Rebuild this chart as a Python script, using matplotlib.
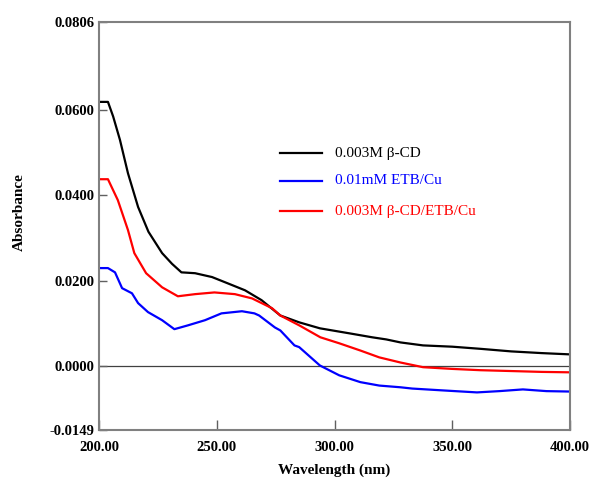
import matplotlib
matplotlib.use("Agg")
import matplotlib.pyplot as plt
from matplotlib.lines import Line2D

# ---- data ----
wl_black = [200, 203.8, 206, 208.9, 212.3, 216.6, 221, 226.8, 231, 235, 240.8, 248, 254.8, 262, 269,
            277, 285, 293.8, 306.6, 316, 322, 328, 337.6, 350, 362, 375, 388, 400]
abs_black = [0.0619, 0.0619, 0.0585, 0.0530, 0.0452, 0.0373, 0.0315, 0.0265, 0.0240, 0.0220, 0.0218,
             0.0209, 0.0194, 0.0178, 0.0155, 0.0119, 0.0103, 0.0089, 0.0077, 0.0068, 0.0063, 0.0056,
             0.0049, 0.0046, 0.0041, 0.0035, 0.0031, 0.0028]

wl_blue = [200, 203.8, 206.8, 209.8, 214, 216.6, 220.8, 226.8, 232, 237.8, 245, 252, 260.7, 266,
           268, 274.7, 277, 283, 285, 293.8, 302, 311, 319, 328, 333, 345, 360.5, 370, 380, 390, 400]
abs_blue = [0.0230, 0.0230, 0.0220, 0.0183, 0.0171, 0.0148, 0.0127, 0.0108, 0.0087, 0.0096, 0.0108,
            0.0124, 0.0129, 0.0124, 0.0119, 0.0091, 0.0084, 0.0049, 0.0045, 0.0002, -0.0021, -0.0037,
            -0.0045, -0.0049, -0.0052, -0.0056, -0.0061, -0.0058, -0.0054, -0.0058, -0.0059]

wl_red = [200, 203.8, 208, 212.3, 215, 220, 226.8, 233.5, 240.8, 249, 257.7, 265, 273.5, 277, 285,
          294, 302, 311, 319, 328, 337.6, 350, 361.8, 375, 388, 400]
abs_red = [0.0438, 0.0438, 0.0389, 0.0319, 0.0265, 0.0218, 0.0185, 0.0164, 0.0169, 0.0173, 0.0169,
           0.0159, 0.0136, 0.0119, 0.0096, 0.0068, 0.0054, 0.0037, 0.0021, 0.0009, -0.0002, -0.0006,
           -0.0009, -0.0011, -0.0013, -0.0014]

labels = ["0.003M \u03b2-CD", "0.01mM ETB/Cu", "0.003M \u03b2-CD/ETB/Cu"]
colors = ["black", "#0000ff", "#ff0000"]

x_ticks = [200, 250, 300, 350, 400]
y_ticks = [-0.0149, 0.0, 0.02, 0.04, 0.06, 0.0806]

plt.rcParams['font.family'] = ['Liberation Serif', 'DejaVu Serif']

fig = plt.figure(figsize=(5.91, 4.8), dpi=100)
ax = fig.add_axes([99/591, 1-430/480, (570-99)/591, (430-22)/480])

ax.plot(wl_black, abs_black, color=colors[0], lw=1.6)
ax.plot(wl_blue, abs_blue, color=colors[1], lw=1.6)
ax.plot(wl_red, abs_red, color=colors[2], lw=1.6)
ax.axhline(0, color="#404040", lw=0.9, zorder=0)

ax.set_xlim(200, 400)
ax.set_ylim(-0.0149, 0.0806)
ax.set_xticks(x_ticks)
ax.set_xticklabels([f"{v:.2f}" for v in x_ticks], fontsize=10.5, fontweight="bold")
ax.set_yticks(y_ticks)
ax.set_yticklabels([f"{v:.4f}" for v in y_ticks], fontsize=10.5, fontweight="bold")
ax.tick_params(axis="x", direction="in", length=7, color="#606060", width=1, pad=8)
ax.tick_params(axis="y", direction="in", length=6, color="#606060", width=1, pad=3)
for s in ax.spines.values():
    s.set_color("#808080")
    s.set_linewidth(1.5)

ax.set_xlabel("Wavelength (nm)", fontsize=11, fontweight="bold", labelpad=7)
fig.text(19/591, 1-212/480, "Absorbance", rotation=90, fontsize=11, fontweight="bold",
         ha="center", va="center")

# legend drawn manually
leg_y = [153, 181, 211]
for lab, c, yy in zip(labels, colors, leg_y):
    yf = 1 - yy/480
    fig.add_artist(Line2D([280/591, 322/591], [yf, yf], color=c, lw=1.6,
                          transform=fig.transFigure))
    fig.text(335/591, yf, lab, color=c, fontsize=11, va="center", ha="left")

fig.savefig("out.png", dpi=100)
